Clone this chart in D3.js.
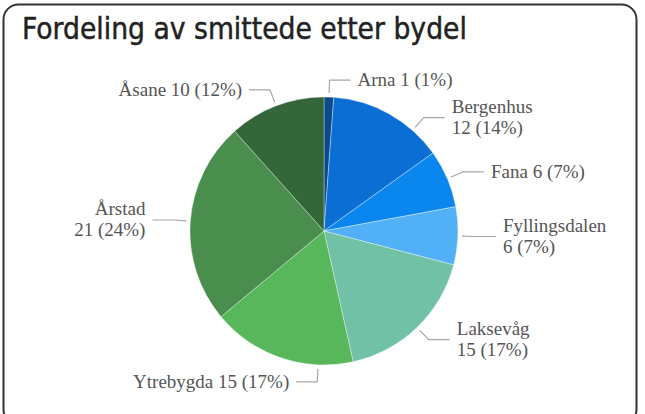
<!DOCTYPE html>
<html>
<head>
<meta charset="utf-8">
<script src="https://cdn.jsdelivr.net/npm/d3@7"></script>
<style>
  body { margin: 0; background: #fff; }
  .title { font-family: "DejaVu Sans Condensed", "Liberation Sans Narrow", "DejaVu Sans", sans-serif; font-stretch: condensed; fill: #222; stroke: #222; stroke-width: 0.45px; }
  .lbl { font-family: "Liberation Serif", "Times New Roman", serif; font-size: 19px; fill: #555; }
</style>
</head>
<body>
<div id="chart"></div>
<script>
// smittede per bydel
var bydeler = ["Arna", "Bergenhus", "Fana", "Fyllingsdalen", "Laksevåg", "Ytrebygda", "Årstad", "Åsane"]
var antall = [1, 12, 6, 6, 15, 15, 21, 10]
var farger = ["#0c4a8b", "#0a6ed5", "#0987ee", "#52b1f6", "#71c1a6", "#58b65b", "#498e4c", "#336639"]
var tittel = "Fordeling av smittede etter bydel"

var W = 645, H = 414
var cx = 324, cy = 231, R = 134

var svg = d3.select('#chart').append('svg')
  .attr('width', W).attr('height', H)

// ramme
svg.append('rect')
  .attr('x', 3.5).attr('y', 4.5).attr('width', 633).attr('height', 420)
  .attr('rx', 15)
  .attr('fill', '#fff').attr('stroke', '#333').attr('stroke-width', 2)

var title = svg.append('text').attr('class', 'title')
  .attr('x', 22).attr('y', 39)
  .style('font-size', '30px')
  .text(tittel)
// fit title width to ~445px
var tw = title.node().getComputedTextLength()
title.style('font-size', (30 * 445 / tw) + 'px')

var total = d3.sum(antall)
var data = bydeler.map(function(n, i) { return {name: n, value: antall[i], color: farger[i]} })

var pie = d3.pie().sort(null).value(function(d) { return d.value })
var arcs = pie(data)
var arc = d3.arc().innerRadius(0).outerRadius(R)

var g = svg.append('g').attr('transform', 'translate(' + cx + ',' + cy + ')')

g.selectAll('path.slice').data(arcs).enter().append('path')
  .attr('class', 'slice')
  .attr('d', arc)
  .attr('fill', function(d) { return d.data.color })
  .attr('stroke', 'rgba(255,255,255,0.5)')
  .attr('stroke-width', 0.7)

// --- labels ---
var ROUT = R + 17, LINE = 21, GAP = 6
var measure = svg.append('text').attr('class', 'lbl').attr('x', -999).attr('y', -999)
function textW(s) { measure.text(s); return measure.node().getComputedTextLength() }

var labels = arcs.map(function(d) {
  var mid = (d.startAngle + d.endAngle) / 2
  var a0 = mid
  // slices crossing top or bottom anchor near the vertical
  var vert = null
  if (d.startAngle <= 1e-9) vert = 0
  else if (d.startAngle < Math.PI && d.endAngle > Math.PI) vert = Math.PI
  if (vert !== null) {
    var diff = mid - vert
    a0 = vert + Math.sign(diff) * Math.min(Math.abs(diff), 6 / R)
  }
  var pct = Math.round(d.value / total * 100)
  return {
    d: d, a0: a0, a: a0,
    side: Math.sin(a0) >= 0 ? 1 : -1,
    y0: -ROUT * Math.cos(a0),
    name: d.data.name,
    val: d.data.value + ' (' + pct + '%)',
    wrap: false
  }
})

function layout() {
  labels.forEach(function(l) {
    l.lines = l.wrap ? [l.name, l.val] : [l.name + ' ' + l.val]
    l.h = l.lines.length * LINE
    l.y = l.y0; l.a = l.a0
  })
  ;[1, -1].forEach(function(side) {
    var ls = labels.filter(function(l) { return l.side == side })
      .sort(function(a, b) { return a.y - b.y })
    for (var i = 1; i < ls.length; i++) {
      var p = ls[i - 1], c = ls[i]
      var minY = p.y + p.h / 2 + GAP + c.h / 2
      if (c.y < minY) c.y = minY
    }
  })
  labels.forEach(function(l) {
    if (Math.abs(l.y - l.y0) > 0.5) {
      var c = Math.max(-1, Math.min(1, -l.y / ROUT))
      var a = l.side > 0 ? Math.acos(c) : 2 * Math.PI - Math.acos(c)
      l.a = Math.max(l.d.startAngle + 0.02, Math.min(l.d.endAngle - 0.02, a))
    }
    l.anchor = [(R + 4) * Math.sin(l.a), -(R + 4) * Math.cos(l.a)]
    l.bend = [ROUT * Math.sin(l.a), l.y]
    l.end = [l.bend[0] + l.side * 21, l.y]
    l.tx = l.end[0] + l.side * 7
  })
}

for (var it = 0; it < 3; it++) {
  layout()
  var changed = false
  labels.forEach(function(l) {
    if (l.wrap) return
    var w = textW(l.lines[0])
    var x = cx + l.tx
    if ((l.side > 0 && x + w > 590) || (l.side < 0 && x - w < 30)) { l.wrap = true; changed = true }
  })
  if (!changed) break
}
layout()
measure.remove()

g.selectAll('polyline.lead').data(labels).enter().append('polyline')
  .attr('class', 'lead')
  .attr('points', function(l) { return [l.anchor, l.bend, l.end].map(function(p) { return p.join(',') }).join(' ') })
  .attr('fill', 'none')
  .attr('stroke', '#a8a8a8')
  .attr('stroke-width', 1.2)

var txt = g.selectAll('text.lbl').data(labels).enter().append('text')
  .attr('class', 'lbl')
  .attr('text-anchor', function(l) { return l.side > 0 ? 'start' : 'end' })

txt.selectAll('tspan').data(function(l) {
    return l.lines.map(function(s, i) { return {s: s, l: l, i: i} })
  }).enter().append('tspan')
  .attr('x', function(t) { return t.l.tx })
  .attr('y', function(t) { return t.l.y + (t.i - (t.l.lines.length - 1) / 2) * LINE + 6 })
  .text(function(t) { return t.s })
</script>
</body>
</html>
